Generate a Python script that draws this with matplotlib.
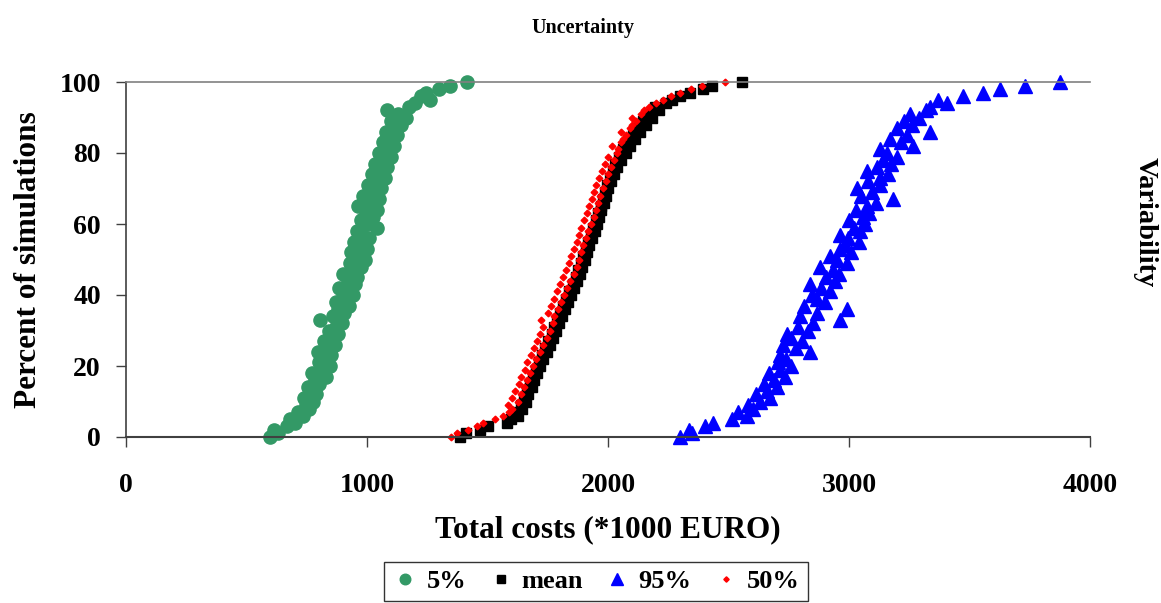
import matplotlib
matplotlib.use("Agg")
import matplotlib.pyplot as plt

plt.rcParams['font.family'] = ['Liberation Serif', 'DejaVu Serif']
plt.rcParams['font.weight'] = 'bold'

# Percent of simulations (rank levels)
pct = [0, 1, 2, 3, 4, 5, 6, 7, 8, 9, 10, 11, 12, 13, 14, 15, 16, 17, 18, 19,
       20, 21, 22, 23, 24, 25, 26, 27, 28, 29, 30, 31, 32, 33, 34, 35, 36, 37, 38, 39,
       40, 41, 42, 43, 44, 45, 46, 47, 48, 49, 50, 51, 52, 53, 54, 55, 56, 57, 58, 59,
       60, 61, 62, 63, 64, 65, 66, 67, 68, 69, 70, 71, 72, 73, 74, 75, 76, 77, 78, 79,
       80, 81, 82, 83, 84, 85, 86, 87, 88, 89, 90, 91, 92, 93, 94, 95, 96, 97, 98, 99, 100]

# Total costs (*1000 EURO) for each series
cost_5 = [598, 630, 615, 668, 700, 680, 735, 712, 760, 748,
          775, 740, 790, 768, 755, 800, 785, 830, 770, 812,
          845, 800, 822, 850, 795, 835, 868, 820, 855, 880,
          842, 872, 898, 806, 860, 905, 880, 925, 870, 898,
          940, 905, 885, 950, 922, 960, 900, 940, 975, 930,
          990, 958, 935, 1000, 965, 945, 1010, 980, 960, 1042,
          1000, 975, 1025, 995, 1040, 962, 1010, 1050, 985, 1030,
          1060, 1005, 1045, 1075, 1020, 1055, 1085, 1035, 1070, 1100,
          1050, 1085, 1110, 1065, 1095, 1125, 1080, 1112, 1140, 1100,
          1160, 1130, 1084, 1175, 1200, 1262, 1225, 1245, 1300, 1345, 1416]

cost_mean = [1385, 1412, 1468, 1500, 1580, 1598, 1628, 1622, 1642, 1638,
             1658, 1652, 1670, 1664, 1683, 1678, 1695, 1690, 1706, 1700,
             1718, 1712, 1731, 1726, 1745, 1740, 1759, 1753, 1772, 1766,
             1784, 1778, 1796, 1790, 1808, 1802, 1820, 1814, 1833, 1827,
             1846, 1840, 1859, 1853, 1872, 1866, 1882, 1877, 1892, 1887,
             1903, 1897, 1913, 1908, 1923, 1918, 1934, 1929, 1944, 1939,
             1955, 1950, 1964, 1960, 1973, 1969, 1982, 1978, 1991, 1987,
             2002, 1996, 2013, 2008, 2025, 2019, 2037, 2031, 2055, 2046,
             2073, 2064, 2091, 2082, 2113, 2102, 2134, 2124, 2157, 2145,
             2182, 2169, 2212, 2196, 2240, 2265, 2300, 2340, 2395, 2430, 2557]

cost_95 = [2300, 2350, 2335, 2404, 2437, 2515, 2577, 2540, 2602, 2580,
           2631, 2672, 2615, 2660, 2700, 2648, 2690, 2735, 2668, 2712,
           2760, 2705, 2740, 2714, 2839, 2780, 2725, 2805, 2758, 2743,
           2830, 2790, 2850, 2963, 2797, 2868, 2992, 2815, 2900, 2868,
           2845, 2920, 2885, 2839, 2940, 2905, 2960, 2934, 2880, 2990,
           2950, 2922, 3010, 2963, 2985, 3040, 2995, 2963, 3046, 3020,
           3065, 3000, 3058, 3085, 3030, 3075, 3110, 3183, 3050, 3095,
           3033, 3130, 3080, 3129, 3160, 3075, 3115, 3175, 3140, 3200,
           3158, 3130, 3267, 3215, 3170, 3240, 3337, 3200, 3260, 3230,
           3290, 3254, 3320, 3337, 3407, 3370, 3474, 3557, 3627, 3730, 3876]

cost_50 = [1350, 1372, 1418, 1455, 1480, 1530, 1565, 1590, 1600, 1585,
           1625, 1600, 1638, 1615, 1652, 1630, 1662, 1640, 1678, 1655,
           1690, 1665, 1703, 1680, 1718, 1692, 1730, 1705, 1745, 1718,
           1758, 1730, 1770, 1722, 1778, 1750, 1792, 1765, 1805, 1776,
           1818, 1788, 1830, 1800, 1842, 1812, 1858, 1826, 1870, 1840,
           1878, 1848, 1888, 1860, 1898, 1870, 1908, 1880, 1918, 1890,
           1930, 1902, 1940, 1912, 1950, 1922, 1960, 1932, 1968, 1942,
           1978, 1952, 1990, 1962, 2002, 1976, 2012, 1988, 2024, 2000,
           2038, 2040, 2015, 2052, 2062, 2075, 2055, 2090, 2100, 2115,
           2098, 2135, 2150, 2170, 2198, 2228, 2262, 2300, 2345, 2390, 2485]

series_names = ['5%', 'mean', '95%', '50%']
x_ticks = [0, 1000, 2000, 3000, 4000]
y_ticks = [0, 20, 40, 60, 80, 100]

fig = plt.figure(figsize=(11.61, 6.03), dpi=100)
ax = fig.add_axes([126 / 1161, 1 - 437 / 603, (1090 - 126) / 1161, (437 - 82) / 603])

ax.plot(cost_5, pct, linestyle='none', marker='o', markersize=9.5,
        color='#339966', label=series_names[0], clip_on=False)
ax.plot(cost_mean, pct, linestyle='none', marker='s', markersize=6.5,
        color='black', label=series_names[1], clip_on=False)
ax.plot(cost_95, pct, linestyle='none', marker='^', markersize=10.5,
        color='#0000FF', label=series_names[2], clip_on=False)
ax.plot(cost_50, pct, linestyle='none', marker='D', markersize=3.4,
        color='#FF0000', label=series_names[3], clip_on=False)

ax.set_xlim(0, 4000)
ax.set_ylim(0, 100)
ax.set_xticks(x_ticks)
ax.set_yticks(y_ticks)

ax.spines['right'].set_visible(False)
ax.spines['top'].set_color('#808080')
ax.spines['top'].set_linewidth(1.2)
ax.spines['left'].set_color('#404040')
ax.spines['bottom'].set_color('#404040')
ax.spines['left'].set_linewidth(1.2)
ax.spines['bottom'].set_linewidth(1.5)

ax.tick_params(axis='both', direction='out', length=7, width=1, color='#404040',
               labelsize=20)
ax.tick_params(axis='x', pad=19)
ax.tick_params(axis='y', pad=11)
for lab in ax.get_xticklabels() + ax.get_yticklabels():
    lab.set_fontweight('bold')

ax.set_xlabel('Total costs (*1000 EURO)', fontsize=22.5, fontweight='bold', labelpad=12)
ax.set_ylabel('Percent of simulations', fontsize=22.5, fontweight='bold', labelpad=12)

fig.text(583 / 1161, 1 - 28 / 603, 'Uncertainty', ha='center', va='center',
         fontsize=14.5, fontweight='bold')
fig.text(1145 / 1161, 1 - 222 / 603, 'Variability', ha='center', va='center',
         rotation=270, fontsize=20.5, fontweight='bold')

leg = fig.legend(loc='upper center', bbox_to_anchor=(596 / 1161, 1 - 562 / 603),
                 ncol=4, frameon=True, fancybox=False, borderaxespad=0,
                 prop={'weight': 'bold', 'size': 19}, handletextpad=0.3,
                 columnspacing=0.8, handlelength=1.0, borderpad=0.3,
                 markerscale=0.8)
leg.get_frame().set_edgecolor('black')
leg.get_frame().set_linewidth(1.0)

fig.savefig('out.png', dpi=100)
